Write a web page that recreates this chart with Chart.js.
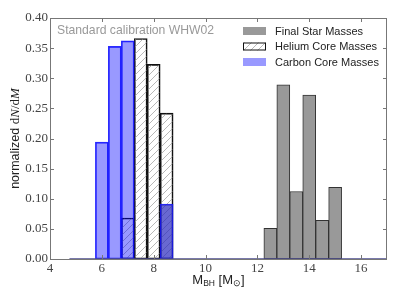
<!DOCTYPE html>
<html>
<head>
<meta charset="utf-8">
<script src="https://cdn.jsdelivr.net/npm/chart.js@4.4.0/dist/chart.umd.min.js"></script>
<style>
  html, body { margin: 0; padding: 0; background: #fff; }
  #wrap { width: 399px; height: 301px; }
</style>
</head>
<body>
<div id="wrap"><canvas id="chart-canvas" width="399" height="301"></canvas></div>
<script>
// bin centres (M_sun) and normalized dN/dM
const finalCenters = [12.5, 13.0, 13.5, 14.0, 14.5, 15.0];
const finalValues = [0.051, 0.289, 0.112, 0.272, 0.064, 0.119];
const heliumCenters = [7.0, 7.5, 8.0, 8.5];
const heliumValues = [0.068, 0.366, 0.323, 0.242];
const carbonCenters = [6.0, 6.5, 7.0, 8.5];
const carbonValues = [0.194, 0.353, 0.362, 0.091];
const histStart = 4.75;
const xTicks = [4, 6, 8, 10, 12, 14, 16];
const yTicks = [0, 0.05, 0.1, 0.15, 0.2, 0.25, 0.3, 0.35, 0.4];
const note = 'Standard calibration WHW02';

const toPoints = (xs, ys) => xs.map((x, i) => ({ x: x, y: ys[i] }));

// diagonal hatch for the helium histogram
function makeHatch() {
    const c = document.createElement('canvas');
    c.width = 7; c.height = 7;
    const g = c.getContext('2d');
    g.strokeStyle = '#9a9a9a';
    g.lineWidth = 0.7;
    g.beginPath();
    g.moveTo(0, 7); g.lineTo(7, 0);
    g.moveTo(-1, 1); g.lineTo(1, -1);
    g.moveTo(6, 8); g.lineTo(8, 6);
    g.stroke();
    return g.createPattern(c, 'repeat');
}
const hatch = makeHatch();

const sans = '"Liberation Sans", Arial, sans-serif';
const serif = '"Liberation Serif", "DejaVu Serif", serif';

const decorations = {
    id: 'decorations',
    afterDraw(chart) {
        const { ctx, chartArea: a, scales } = chart;
        ctx.save();
        // frame
        ctx.strokeStyle = '#777';
        ctx.lineWidth = 1;
        ctx.strokeRect(a.left + 0.5, a.top + 0.5, a.right - a.left - 1, a.bottom - a.top);
        // inward ticks
        ctx.beginPath();
        xTicks.forEach(v => {
            const px = Math.round(scales.x.getPixelForValue(v)) + 0.5;
            ctx.moveTo(px, a.bottom); ctx.lineTo(px, a.bottom - 4);
            ctx.moveTo(px, a.top); ctx.lineTo(px, a.top + 4);
        });
        yTicks.forEach(v => {
            const py = Math.round(scales.y.getPixelForValue(v)) + 0.5;
            ctx.moveTo(a.left, py); ctx.lineTo(a.left + 4, py);
            ctx.moveTo(a.right, py); ctx.lineTo(a.right - 4, py);
        });
        ctx.stroke();

        // note in the upper left
        ctx.fillStyle = '#999';
        ctx.font = '12.2px ' + sans;
        ctx.textBaseline = 'alphabetic';
        ctx.textAlign = 'left';
        ctx.fillText(note, a.left + 7, a.top + 16);

        // legend
        const rows = chart.data.datasets.filter(d => d.type !== 'line');
        rows.sort((p, q) => q.order - p.order);
        rows.forEach((d, i) => {
            const cy = 31 + i * 15.5;
            const bx = 243, bw = 23, bh = 8;
            ctx.fillStyle = d.legendFill;
            ctx.fillRect(bx, cy - bh / 2, bw, bh);
            if (d.legendBorder) {
                ctx.fillStyle = hatch;
                ctx.fillRect(bx, cy - bh / 2, bw, bh);
                ctx.strokeStyle = d.legendBorder;
                ctx.lineWidth = 1;
                ctx.strokeRect(bx + 0.5, cy - bh / 2 + 0.5, bw - 1, bh - 1);
            }
            ctx.fillStyle = '#222';
            ctx.font = '11px ' + sans;
            ctx.textBaseline = 'middle';
            ctx.fillText(d.label, 275, cy + 0.5);
        });

        // x title: M_BH [M_sun]
        ctx.fillStyle = '#222';
        ctx.textBaseline = 'alphabetic';
        const xParts = [
            ['M', '13px ' + sans, 0], ['BH', '8.5px ' + sans, 2],
            [' [M', '13px ' + sans, 0], ['\u2299', '8.5px ' + sans, 2], [']', '13px ' + sans, 0]
        ];
        drawParts(ctx, xParts, (a.left + a.right) / 2, 284);

        // y title: normalized dN/dM
        ctx.translate(19, (a.top + a.bottom) / 2);
        ctx.rotate(-Math.PI / 2);
        const yParts = [
            ['normalized ', '12.5px ' + sans, 0], ['d', '13px ' + serif, 0], ['N', 'italic 13px ' + serif, 0],
            ['/', '13px ' + serif, 0], ['d', '13px ' + serif, 0], ['M', 'italic 13px ' + serif, 0]
        ];
        drawParts(ctx, yParts, 0, 0);
        ctx.restore();
    }
};

function drawParts(ctx, parts, cx, baseY) {
    let total = 0;
    parts.forEach(p => { ctx.font = p[1]; total += ctx.measureText(p[0]).width; });
    let x = cx - total / 2;
    ctx.textAlign = 'left';
    parts.forEach(p => {
        ctx.font = p[1];
        ctx.fillText(p[0], x, baseY + p[2]);
        x += ctx.measureText(p[0]).width;
    });
}

const ctx = document.getElementById('chart-canvas').getContext('2d');
new Chart(ctx, {
    type: 'bar',
    data: {
        datasets: [
            {
                type: 'line',
                label: 'baseline',
                data: [{ x: histStart, y: 0 }, { x: 17, y: 0 }],
                borderColor: '#4d4d8f',
                borderWidth: 1.5,
                pointRadius: 0,
                order: 0
            },
            {
                label: 'Carbon Core Masses',
                data: toPoints(carbonCenters, carbonValues),
                backgroundColor: c => c.raw && c.raw.x === 8.5 ? 'rgba(40,40,190,0.7)' : 'rgba(0,0,255,0.4)',
                borderColor: 'rgba(20,20,255,0.9)',
                borderWidth: 1,
                legendFill: 'rgba(0,0,255,0.4)',
                order: 1
            },
            {
                label: 'Helium Core Masses',
                data: toPoints(heliumCenters, heliumValues),
                backgroundColor: hatch,
                borderColor: '#111',
                borderWidth: 1,
                legendFill: '#fff',
                legendBorder: '#111',
                order: 2
            },
            {
                label: 'Final Star Masses',
                data: toPoints(finalCenters, finalValues),
                backgroundColor: '#999999',
                borderColor: '#333',
                borderWidth: 1,
                legendFill: '#999999',
                order: 3
            }
        ]
    },
    options: {
        responsive: false,
        animation: false,
        layout: { padding: { top: 18, right: 12, left: 0, bottom: 0 } },
        datasets: {
            bar: {
                grouped: false,
                barPercentage: 1,
                categoryPercentage: 1,
                borderSkipped: false
            }
        },
        plugins: {
            legend: { display: false },
            tooltip: { enabled: false }
        },
        scales: {
            x: {
                type: 'linear',
                min: 4,
                max: 17,
                offset: false,
                grid: { display: false, drawTicks: false, tickLength: 0 },
                border: { display: false },
                afterBuildTicks: s => { s.ticks = xTicks.map(v => ({ value: v })); },
                afterFit: s => { s.height = 42; },
                ticks: {
                    color: '#444',
                    padding: 2,
                    font: { family: serif, size: 13 },
                    maxRotation: 0
                }
            },
            y: {
                min: 0,
                max: 0.4,
                grid: { display: false, drawTicks: false, tickLength: 0 },
                border: { display: false },
                afterBuildTicks: s => { s.ticks = yTicks.map(v => ({ value: v })); },
                afterFit: s => { s.width = 50; },
                ticks: {
                    color: '#444',
                    padding: 2,
                    font: { family: serif, size: 13 },
                    callback: v => v.toFixed(2)
                }
            }
        }
    },
    plugins: [decorations]
});
</script>
</body>
</html>
